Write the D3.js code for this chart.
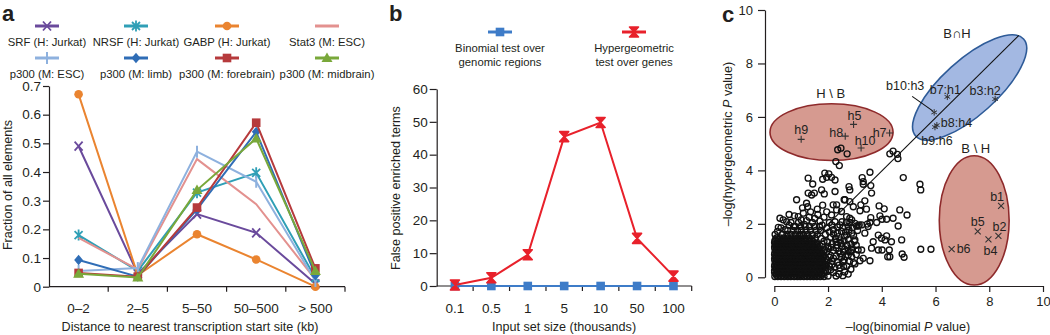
<!DOCTYPE html>
<html>
<head>
<meta charset="utf-8">
<script src="https://cdn.jsdelivr.net/npm/d3@7"></script>
<style>
  body { margin: 0; background: #fff; }
  svg text { font-family: "Liberation Sans", Arial, sans-serif; fill: #231f20; }
</style>
</head>
<body>
<script>
// ---- panel a: distance of binding sites to nearest TSS ----
const distBins = ["0–2", "2–5", "5–50", "50–500", "> 500"];
const fractionTicks = [0, 0.1, 0.2, 0.3, 0.4, 0.5, 0.6, 0.7];
const srf       = [0.49, 0.045, 0.253, 0.188, 0.01];
const nrsf      = [0.18, 0.055, 0.328, 0.397, 0.03];
const gabp      = [0.671, 0.04, 0.183, 0.095, 0.0];
const stat3     = [0.17, 0.06, 0.445, 0.288, 0.025];
const p300Esc   = [0.055, 0.065, 0.471, 0.366, 0.02];
const p300Limb  = [0.093, 0.035, 0.27, 0.54, 0.04];
const p300Fore  = [0.048, 0.035, 0.276, 0.572, 0.064];
const p300Mid   = [0.045, 0.032, 0.337, 0.517, 0.055];

// ---- panel b: false positives vs input size ----
const setSizes = ["0.1", "0.5", "1", "5", "10", "50", "100"];
const termTicks = [0, 10, 20, 30, 40, 50, 60];
const binomialFp = [0, 0, 0, 0, 0, 0, 0];
const hypergeoFp = [0.3, 2.5, 9.5, 45.5, 49.8, 14.5, 3.0];

// ---- panel c: -log P of binomial vs hypergeometric ----
const pTicks = [0, 2, 4, 6, 8, 10];
// scattered terms
const termPoints = [
  [2.36,4.77],[2.48,4.83],[2.71,4.62],[2.29,4.33],[2.42,4.18],
  [4.3,4.62],[4.42,4.72],[4.58,4.6],[4.6,4.44],
  [1.88,3.9],[2.03,3.87],[2.13,3.74],[1.95,3.74],[1.8,3.67],[1.26,3.71],[1.43,3.49],[2.26,3.64],
  [1.76,3.27],[1.86,3.12],[1.26,3.15],[1.39,3.08],[1.49,3.15],[2.26,3.21],[0.83,2.9],[1.2,2.77],
  [1.24,2.64],[2.63,2.9],[2.81,2.83],[2.19,2.71],[2.32,2.52],[0.21,2.21],[0.33,2.15],[0.46,2.08],
  [0.15,1.87],[0.89,2.27],[1.08,2.4],
  [3.56,3.93],[3.27,3.73],[3.31,3.58],[3.31,3.48],[3.59,3.43],[3.62,3.15],[4.8,3.73],[5.42,3.48],
  [5.45,3.27],[2.78,3.39],[2.81,3.27],[3.37,2.86],[3.22,2.71],[3.19,2.49],[3.43,2.55],[3.9,2.67],
  [4.09,2.56],[4.67,2.52],[4.94,2.33],[3.59,2.23],[3.56,2.05],[3.46,1.99],[3.81,2.05],[3.93,2.3],
  [4.01,2.17],[4.18,2.17],[4.42,2.21],[4.61,1.92],[3.16,1.96],[3.06,1.92],[4.18,1.55],[4.12,1.4],
  [4.74,1.4],[4.36,1.33],[3.68,1.33],[3.62,1.09],[3.87,1.02],[4.01,1.02],[4.28,1.02],[5.45,1.05],
  [5.83,1.05],[4.76,0.87],[4.83,0.75],[4.22,0.77],[4.3,0.77],[3.31,0.71],[3.19,0.62],[3.0,0.5],
  [3.56,0.62],[3.0,1.4],[2.88,1.02],[3.12,1.02],[3.25,1.02],[2.75,0.83],[2.88,0.77],[2.81,2.21],
  [2.81,2.05],[3.0,2.02],[3.12,1.92],[3.25,1.96],[2.78,1.77],[2.88,1.65],[2.69,1.58],[3.37,1.65],
  [3.49,1.9],[3.87,1.58],[3.99,1.46],
  [2.32,2.71],[2.6,2.9],[2.94,2.64],[2.5,2.46],[2.69,2.27],[2.88,2.15],[2.26,2.08],[2.13,2.33],
  [2.44,1.96],[2.75,1.9],
  [1.95,1.85],[2.05,1.7],[2.2,1.78],[2.35,1.65],[2.5,1.72],[2.62,1.55],[2.1,1.5],[2.28,1.45],
  [2.45,1.4],[2.6,1.35],[2.75,1.42],[1.98,1.32],[2.15,1.25],[2.35,1.2],[2.52,1.15],[2.7,1.2],
  [2.85,1.25],[2.02,1.08],[2.2,1.0],[2.4,0.98],[2.58,0.95],[2.75,1.0],[2.1,0.82],[2.3,0.8],
  [2.5,0.75],[2.65,0.78],[1.95,0.65],[2.15,0.6],[2.35,0.55],[2.55,0.58],[2.05,0.42],[2.25,0.38],
  [2.45,0.35],[2.7,0.42],[1.98,0.22],[2.2,0.18],[2.4,0.12],[2.62,0.2],[2.85,0.3],[2.95,0.55],
  [3.05,0.85],[3.05,1.2],[2.95,1.55],[3.1,1.75],[2.9,1.85],
  [0.12,1.72],[0.25,1.85],[0.4,1.78],[0.55,1.95],[0.62,2.05],[0.72,1.9],[0.9,2.05],[1.0,2.15],
  [1.12,1.98],[1.2,2.12],[1.3,2.25],[1.42,2.05],[1.5,2.2],[1.62,2.35],[1.7,2.1],[1.78,1.95],
  [1.85,2.25],[1.95,2.45],[1.6,2.55],[1.35,2.45],[0.75,2.3],[0.55,2.35],[1.05,2.6],[1.8,2.7],
  [2.05,2.05],[1.9,1.6],[1.75,1.45],[1.85,1.35],[2.0,1.15],[1.95,0.95],[2.05,0.75],[1.92,0.45],
  [2.1,0.28],[2.3,0.05],[2.55,0.06],[2.75,0.12],[2.0,0.05],
  [2.2,1.62],[2.4,1.52],[2.55,1.85],[2.35,1.88],[2.15,1.95],[2.65,1.7],[2.3,1.32],[2.48,1.27],
  [2.62,1.05],[2.3,1.1],[2.12,1.12],[2.45,0.88],[2.2,0.72],[2.6,0.65],[2.4,0.45],[2.58,0.4],
  [2.15,0.48],[2.8,0.6],[2.85,0.95],[2.9,1.1],[2.98,1.35],[2.68,2.05],[2.52,2.08]
];
// dense low-significance terms, one row per y value: [y, x, x, ...]
const denseRows = [
  [0.03, 0.02,0.13,0.25,0.37,0.5,0.61,0.74,0.86,0.97,1.1,1.22,1.34,1.46,1.58,1.71,1.85],
  [0.08, 0.08,0.19,0.31,0.43,0.55,0.67,0.8,0.92,1.03,1.16,1.28,1.4,1.52,1.64,1.77],
  [0.14, 0.07,0.19,0.31,0.43,0.56,0.68,0.79,0.92,1.04,1.16,1.28,1.4,1.53,1.65,1.78],
  [0.19, 0.01,0.13,0.25,0.37,0.49,0.62,0.74,0.85,0.98,1.1,1.22,1.34,1.47,1.59,1.71,1.84],
  [0.25, 0.01,0.12,0.26,0.38,0.49,0.62,0.73,0.85,0.98,1.1,1.21,1.35,1.47,1.6,1.72,1.9],
  [0.3,  0.07,0.19,0.32,0.44,0.56,0.68,0.79,0.91,1.04,1.16,1.27,1.41,1.53,1.66,1.79],
  [0.36, 0.06,0.18,0.3,0.44,0.55,0.67,0.8,0.91,1.03,1.15,1.29,1.41,1.52,1.66,1.81],
  [0.41, 0.01,0.12,0.24,0.37,0.49,0.61,0.73,0.86,0.97,1.09,1.22,1.35,1.47,1.6,1.74,1.9],
  [0.47, 0.02,0.13,0.24,0.37,0.5,0.61,0.74,0.86,0.98,1.09,1.22,1.35,1.46,1.59,1.73,1.88],
  [0.52, 0.07,0.19,0.31,0.43,0.56,0.67,0.8,0.92,1.04,1.16,1.28,1.41,1.53,1.66,1.8],
  [0.58, 0.07,0.19,0.32,0.43,0.55,0.68,0.79,0.92,1.04,1.17,1.28,1.41,1.54,1.67,1.8],
  [0.63, 0.02,0.13,0.25,0.37,0.49,0.61,0.74,0.86,0.98,1.1,1.22,1.35,1.47,1.6,1.72,1.86],
  [0.69, 0.01,0.12,0.25,0.38,0.49,0.62,0.74,0.85,0.97,1.1,1.23,1.34,1.47,1.6,1.75,1.92],
  [0.74, 0.07,0.19,0.31,0.43,0.55,0.68,0.8,0.91,1.04,1.17,1.29,1.41,1.54,1.68,1.82],
  [0.8,  0.06,0.18,0.3,0.43,0.56,0.67,0.79,0.91,1.04,1.16,1.28,1.4,1.53,1.66,1.84],
  [0.85, 0.01,0.13,0.24,0.37,0.49,0.61,0.74,0.86,0.98,1.1,1.22,1.34,1.47,1.6,1.72],
  [0.91, 0.02,0.13,0.25,0.37,0.5,0.61,0.73,0.86,0.98,1.1,1.22,1.35,1.47,1.61,1.77],
  [0.96, 0.07,0.19,0.31,0.43,0.55,0.67,0.79,0.92,1.04,1.16,1.28,1.41,1.54,1.68,1.83],
  [1.02, 0.07,0.19,0.31,0.44,0.55,0.67,0.8,0.92,1.04,1.16,1.29,1.42,1.55,1.7,1.88],
  [1.07, 0.02,0.13,0.25,0.37,0.5,0.62,0.73,0.86,0.98,1.1,1.22,1.35,1.48,1.62],
  [1.13, 0.01,0.13,0.25,0.38,0.49,0.62,0.74,0.86,0.98,1.11,1.23,1.36,1.5,1.64],
  [1.18, 0.07,0.19,0.31,0.44,0.56,0.68,0.8,0.92,1.04,1.17,1.3,1.43,1.56,1.7],
  [1.24, 0.05,0.18,0.31,0.43,0.56,0.68,0.8,0.93,1.05,1.18,1.31,1.45,1.6,1.78],
  [1.29, 0.01,0.12,0.25,0.37,0.49,0.62,0.74,0.86,0.98,1.11,1.23,1.37,1.52],
  [1.35, 0.02,0.14,0.27,0.4,0.52,0.64,0.77,0.9,1.02,1.15,1.29,1.44],
  [1.41, 0.04,0.16,0.29,0.43,0.57,0.7,0.82,0.95,1.08,1.22,1.38],
  [1.47, 0.08,0.22,0.36,0.5,0.63,0.76,0.88,1.01,1.14,1.3,1.52],
  [1.6,  0.03,0.3,0.47,0.62,0.78,0.95,1.08,1.24,1.41,1.6],
  [1.75, 0.5,0.7,0.86,1.0,1.18,1.35,1.55,1.72],
  [1.9,  0.78,0.98,1.15,1.32,1.5,1.68]
];
const hOnly = [["h9",1.0,5.16],["h8",2.64,5.28],["h5",2.95,5.72],["h10",3.23,4.84],["h7",4.29,5.4]];
const both  = [["b7:h1",6.44,6.75],["b3:h2",8.22,6.67],["b10:h3",5.95,6.17],["b8:h4",6.05,5.69],["b9:h6",5.98,5.62]];
const bOnly = [["b1",8.44,2.67],["b2",8.34,1.55],["b4",7.97,1.42],["b5",7.57,1.72],["b6",6.6,1.05]];

const ink = "#231f20";
const font = '"Liberation Sans", Arial, sans-serif';

const svg = d3.select("body").append("svg")
  .attr("width", 1050)
  .attr("height", 335);

// draws a series marker centred at 0,0
function marker(g, type, color) {
  if (type === "circle") g.append("circle").attr("r", 4.3).attr("fill", color);
  else if (type === "square") g.append("rect").attr("x", -4.3).attr("y", -4.3).attr("width", 8.6).attr("height", 8.6).attr("fill", color);
  else if (type === "diamond") g.append("path").attr("d", "M0,-5.2L4.4,0L0,5.2L-4.4,0Z").attr("fill", color);
  else if (type === "triangle") g.append("path").attr("d", "M0,-5.5L5.5,4L-5.5,4Z").attr("fill", color);
  else if (type === "x") g.append("path").attr("d", "M-4,-4.5L4,4.5M-4,4.5L4,-4.5").attr("stroke", color).attr("stroke-width", 1.8).attr("fill", "none");
  else if (type === "asterisk") g.append("path").attr("d", "M-4,-4L4,4M-4,4L4,-4M0,-5.5V5.5").attr("stroke", color).attr("stroke-width", 1.8).attr("fill", "none");
  else if (type === "plus") g.append("path").attr("d", "M0,-6V6").attr("stroke", color).attr("stroke-width", 2).attr("fill", "none");
  else if (type === "hourglass") g.append("path").attr("d", "M-4.5,-5H4.5L-4.5,5H4.5Z").attr("stroke", color).attr("stroke-width", 1.6).attr("stroke-linejoin", "round").attr("fill", color);
}

function styleAxis(g, size) {
  g.attr("font-family", font).attr("font-size", size);
  g.selectAll(".domain, .tick line").attr("stroke", ink).attr("stroke-width", 1.2);
  g.selectAll(".tick text").attr("fill", ink);
}

function panelLetter(x, y, s) {
  svg.append("text").attr("x", x).attr("y", y).attr("font-size", 22).attr("font-weight", "bold").text(s);
}

// ================= panel a =================
const seriesA = [
  { name: "SRF (H: Jurkat)", values: srf, color: "#6a4a9c", mark: "x" },
  { name: "NRSF (H: Jurkat)", values: nrsf, color: "#2f9fb6", mark: "asterisk" },
  { name: "GABP (H: Jurkat)", values: gabp, color: "#ea8430", mark: "circle" },
  { name: "Stat3 (M: ESC)", values: stat3, color: "#e3918f", mark: "none" },
  { name: "p300 (M: ESC)", values: p300Esc, color: "#8eb1de", mark: "plus" },
  { name: "p300 (M: limb)", values: p300Limb, color: "#2f6db6", mark: "diamond" },
  { name: "p300 (M: forebrain)", values: p300Fore, color: "#b63a3c", mark: "square" },
  { name: "p300 (M: midbrain)", values: p300Mid, color: "#79a83a", mark: "triangle" }
];

const xA = d3.scaleBand().domain(distBins).range([49, 345]);
const yA = d3.scaleLinear().domain([0, 0.7]).range([286.7, 86]);

panelLetter(2, 21, "a");

const legA = svg.append("g").attr("font-size", 11.3);
seriesA.forEach((s, i) => {
  const cx = [47, 136, 227, 327][i % 4];
  const row = Math.floor(i / 4);
  const g = legA.append("g").attr("transform", `translate(${cx},${26 + row * 32})`);
  g.append("line").attr("x1", -12).attr("x2", 12).attr("stroke", s.color).attr("stroke-width", 3);
  marker(g, s.mark, s.color);
  legA.append("text").attr("x", cx).attr("y", 46 + row * 32).attr("text-anchor", "middle").text(s.name);
});

const gyA = svg.append("g").attr("transform", "translate(49,0)")
  .call(d3.axisLeft(yA).tickValues(fractionTicks)
    .tickFormat(d => d === 0 ? "0" : d.toFixed(1))
    .tickSize(6).tickSizeOuter(0).tickPadding(2));
styleAxis(gyA, 13.5);

const gxA = svg.append("g").attr("transform", `translate(0,${yA(0)})`)
  .call(d3.axisBottom(xA).tickSize(0).tickPadding(17));
styleAxis(gxA, 13.5);
gxA.select(".domain").attr("d", `M${xA.range()[0]},0H${xA.range()[1]}`);
gxA.selectAll(".bound").data(distBins).join("line")
  .attr("x1", d => xA(d) + xA.bandwidth()).attr("x2", d => xA(d) + xA.bandwidth())
  .attr("y1", 0).attr("y2", 5).attr("stroke", ink).attr("stroke-width", 1.2);

const lineA = d3.line().x((d, i) => xA(distBins[i]) + xA.bandwidth() / 2).y(d => yA(d));
seriesA.forEach(s => {
  svg.append("path").attr("d", lineA(s.values)).attr("fill", "none")
    .attr("stroke", s.color).attr("stroke-width", 2);
  s.values.forEach((v, i) => {
    const g = svg.append("g").attr("transform", `translate(${xA(distBins[i]) + xA.bandwidth() / 2},${yA(v)})`);
    marker(g, s.mark, s.color);
  });
});

svg.append("text").attr("transform", "translate(12,185) rotate(-90)")
  .attr("text-anchor", "middle").attr("font-size", 12.6).text("Fraction of all elements");
svg.append("text").attr("x", 190).attr("y", 331)
  .attr("text-anchor", "middle").attr("font-size", 12.6)
  .text("Distance to nearest transcription start site (kb)");

// ================= panel b =================
const seriesB = [
  { lines: ["Binomial test over", "genomic regions"], values: binomialFp, color: "#3e7cc8", mark: "square", lx: 500 },
  { lines: ["Hypergeometric", "test over genes"], values: hypergeoFp, color: "#e8212b", mark: "hourglass", lx: 634 }
];

const xB = d3.scaleBand().domain(setSizes).range([436.7, 691.7]);
const yB = d3.scaleLinear().domain([0, 60]).range([286, 89]);

panelLetter(389, 21, "b");

seriesB.forEach(s => {
  const g = svg.append("g").attr("transform", `translate(${s.lx},32)`);
  g.append("line").attr("x1", -12).attr("x2", 12).attr("stroke", s.color).attr("stroke-width", 3);
  marker(g, s.mark, s.color);
  s.lines.forEach((t, j) => {
    svg.append("text").attr("x", s.lx).attr("y", 52 + j * 14)
      .attr("text-anchor", "middle").attr("font-size", 11.3).text(t);
  });
});

const gyB = svg.append("g").attr("transform", "translate(436.7,0)")
  .call(d3.axisLeft(yB).tickValues(termTicks).tickSize(7).tickSizeOuter(0).tickPadding(2));
styleAxis(gyB, 13.5);

const gxB = svg.append("g").attr("transform", `translate(0,${yB(0)})`)
  .call(d3.axisBottom(xB).tickSize(0).tickPadding(17));
styleAxis(gxB, 13.5);
gxB.select(".domain").attr("d", `M${xB.range()[0]},0H${xB.range()[1]}`);
gxB.selectAll(".bound").data(setSizes).join("line")
  .attr("x1", d => xB(d) + xB.bandwidth()).attr("x2", d => xB(d) + xB.bandwidth())
  .attr("y1", 0).attr("y2", 5).attr("stroke", ink).attr("stroke-width", 1.2);

const lineB = d3.line().x((d, i) => xB(setSizes[i]) + xB.bandwidth() / 2).y(d => yB(d));
seriesB.forEach(s => {
  svg.append("path").attr("d", lineB(s.values)).attr("fill", "none")
    .attr("stroke", s.color).attr("stroke-width", 2);
  s.values.forEach((v, i) => {
    const g = svg.append("g").attr("transform", `translate(${xB(setSizes[i]) + xB.bandwidth() / 2},${yB(v)})`);
    marker(g, s.mark, s.color);
  });
});

svg.append("text").attr("transform", "translate(400,188) rotate(-90)")
  .attr("text-anchor", "middle").attr("font-size", 12.6).text("False positive enriched terms");
svg.append("text").attr("x", 564).attr("y", 331)
  .attr("text-anchor", "middle").attr("font-size", 12.6).text("Input set size (thousands)");

// ================= panel c =================
const xC = d3.scaleLinear().domain([0, 10]).range([774.3, 1043]);
const yC = d3.scaleLinear().domain([0, 10]).range([277.3, 10]);

panelLetter(722, 22, "c");

const gyC = svg.append("g").attr("transform", "translate(765,0)")
  .call(d3.axisLeft(yC).tickValues(pTicks).tickSize(7).tickSizeOuter(0).tickPadding(5));
styleAxis(gyC, 13);
const gxC = svg.append("g").attr("transform", "translate(0,286)")
  .call(d3.axisBottom(xC).tickValues(pTicks).tickSize(6).tickSizeOuter(0).tickPadding(5));
styleAxis(gxC, 13);

// set ellipses
const setRegions = [
  { cx: 2.13, cy: 5.43, rx: 2.29, ry: 1.06, angle: 0, fill: "#d69a90", stroke: "#8e2a2b" },
  { cx: 7.44, cy: 2.13, rx: 1.3, ry: 2.42, angle: 0, fill: "#d69a90", stroke: "#8e2a2b" },
  { cx: 7.27, cy: 7.1, rx: 2.7, ry: 1.03, angle: 42, fill: "#a3b8e2", stroke: "#2e5b98" }
];
setRegions.forEach(e => {
  svg.append("ellipse")
    .attr("transform", `translate(${xC(e.cx)},${yC(e.cy)}) rotate(${-e.angle})`)
    .attr("rx", xC(e.rx) - xC(0)).attr("ry", yC(0) - yC(e.ry))
    .attr("fill", e.fill).attr("stroke", e.stroke).attr("stroke-width", 1.6);
});

// y = x reference
svg.append("line")
  .attr("x1", xC(0)).attr("y1", yC(0)).attr("x2", xC(9.1)).attr("y2", yC(9.05))
  .attr("stroke", "#111").attr("stroke-width", 1.1);

const densePoints = denseRows.flatMap(r => r.slice(1).map(x => [x, r[0]]));
svg.append("g").selectAll("circle")
  .data(densePoints.concat(termPoints))
  .join("circle")
  .attr("cx", d => xC(d[0])).attr("cy", d => yC(d[1])).attr("r", 3)
  .attr("fill", "none").attr("stroke", "#111").attr("stroke-width", 1.35);

const glyph = {
  plus: "M-3.5,0H3.5M0,-3.5V3.5",
  cross: "M-3,-3L3,3M-3,3L3,-3",
  star: "M0,-3.2V3.2M-2.8,-1.6L2.8,1.6M-2.8,1.6L2.8,-1.6"
};
function pointSet(list, shape, offsets) {
  list.forEach((p, i) => {
    const px = xC(p[1]), py = yC(p[2]);
    svg.append("path").attr("d", glyph[shape]).attr("transform", `translate(${px},${py})`)
      .attr("stroke", "#333").attr("stroke-width", shape === "star" ? 1 : 1.1).attr("fill", "none");
    const o = offsets[i];
    svg.append("text").attr("x", px + o[0]).attr("y", py + o[1]).attr("text-anchor", o[2])
      .attr("font-size", 12.5).text(p[0]);
  });
}
pointSet(hOnly, "plus", [[0, -5, "middle"], [-2, 1, "end"], [1, -4, "middle"], [4, -3, "middle"], [-3, 4, "end"]]);
pointSet(both, "star", [[-2, -3, "middle"], [-10, -4, "middle"], [-29, -22, "middle"], [4, 2, "start"], [2, 18, "middle"]]);
pointSet(bOnly, "cross", [[-4, -5, "middle"], [1, -5, "middle"], [2, 16, "middle"], [0, -5, "middle"], [5, 4, "start"]]);

// leader for b10:h3
const b10 = both[2];
svg.append("line")
  .attr("x1", xC(b10[1]) - 22).attr("y1", yC(b10[2]) - 16)
  .attr("x2", xC(b10[1]) - 1.5).attr("y2", yC(b10[2]) - 1.5)
  .attr("stroke", "#111").attr("stroke-width", 1.1);

// set labels
[["H \\ B", 2.1, 6.7], ["B∩H", 6.8, 8.95], ["B \\ H", 7.5, 4.65]].forEach(l => {
  svg.append("text").attr("x", xC(l[1])).attr("y", yC(l[2]))
    .attr("text-anchor", "middle").attr("font-size", 13).text(l[0]);
});

const yl = svg.append("text").attr("transform", "translate(732,144) rotate(-90)")
  .attr("text-anchor", "middle").attr("font-size", 12.6);
yl.append("tspan").text("–log(hypergeometric ");
yl.append("tspan").attr("font-style", "italic").text("P");
yl.append("tspan").text(" value)");

const xl = svg.append("text").attr("x", 908).attr("y", 331)
  .attr("text-anchor", "middle").attr("font-size", 12.6);
xl.append("tspan").text("–log(binomial ");
xl.append("tspan").attr("font-style", "italic").text("P");
xl.append("tspan").text(" value)");
</script>
</body>
</html>
